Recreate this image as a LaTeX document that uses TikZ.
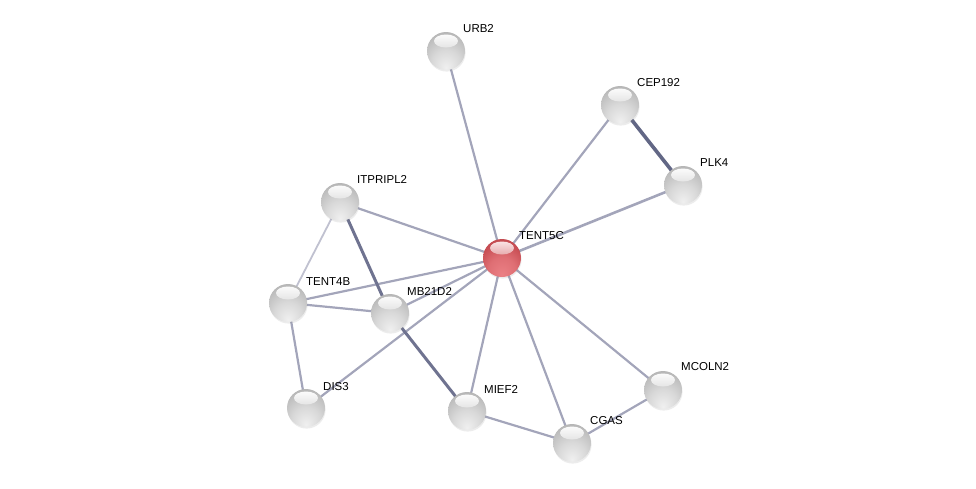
\documentclass[tikz,border=0pt]{standalone}
\usepackage{fontspec}
\setmainfont{Liberation Sans}
\usetikzlibrary{backgrounds,shadows}
\definecolor{sedge}{RGB}{163,165,186}
\definecolor{sedgedark}{RGB}{98,103,133}
\definecolor{sedgelight}{RGB}{192,193,208}
\definecolor{sredlo}{RGB}{235,128,133}
\definecolor{sredmid}{RGB}{200,78,84}
\definecolor{sredrim}{RGB}{130,28,34}
\pgfdeclareradialshading{protball}{\pgfpoint{0bp}{-22bp}}{%
  color(0bp)=(black!6); color(18bp)=(black!15); color(32bp)=(black!25);
  color(45bp)=(black!36); color(55bp)=(black!50); color(65bp)=(black!58); color(75bp)=(black!58)}
\pgfdeclareradialshading{queryball}{\pgfpoint{0bp}{-22bp}}{%
  color(0bp)=(sredlo); color(18bp)=(sredlo!65!sredmid); color(32bp)=(sredmid);
  color(45bp)=(sredmid!80!sredrim); color(55bp)=(sredmid!35!sredrim); color(65bp)=(sredrim); color(75bp)=(sredrim)}

\begin{document}
\begin{tikzpicture}[
  x=1pt,y=-1pt,
  font=\fontsize{11.5}{13}\selectfont,
  prot/.style={circle,minimum size=38pt,inner sep=0pt,shading=protball,
               path picture={\shade[top color=white,bottom color=black!25] ([yshift=-9pt]path picture bounding box.north) ellipse (12pt and 6.5pt);},
               drop shadow={opacity=0.15,shadow xshift=0.6pt,shadow yshift=-1.6pt}},
  query/.style={prot,shading=queryball,
               path picture={\shade[top color=white!85!sredlo,bottom color=sredmid] ([yshift=-9pt]path picture bounding box.north) ellipse (12pt and 6.5pt);}},
  lab/.style={anchor=west,inner sep=0pt},
  edge/.style={draw=sedge,line width=2.2pt},
  strong/.style={draw=sedgedark,line width=3pt},
  weak/.style={draw=sedgelight,line width=1.8pt},
  ]
  \useasboundingbox (0,0) rectangle (976,488);
  % proteins
  \node[prot]  (urb)   at (446,51)  {};
  \node[prot]  (cep)   at (620,105) {};
  \node[prot]  (plk)   at (683,185) {};
  \node[prot]  (itp)   at (340,202) {};
  \node[query] (tent5) at (502,258) {};
  \node[prot]  (tent4) at (288,303) {};
  \node[prot]  (mb)    at (390,313) {};
  \node[prot]  (dis)   at (306,408) {};
  \node[prot]  (mief)  at (467,411) {};
  \node[prot]  (cgas)  at (572,443) {};
  \node[prot]  (mcol)  at (663,390) {};
  % names
  \node[lab] (urb-l)   at ([shift={(17,-22)}]urb.center)   {URB2};
  \node[lab] (cep-l)   at ([shift={(17,-22)}]cep.center)   {CEP192};
  \node[lab] (plk-l)   at ([shift={(17,-22)}]plk.center)   {PLK4};
  \node[lab] (itp-l)   at ([shift={(17,-23)}]itp.center)   {ITPRIPL2};
  \node[lab] (tent5-l) at ([shift={(17,-22)}]tent5.center) {TENT5C};
  \node[lab] (tent4-l) at ([shift={(18,-21)}]tent4.center) {TENT4B};
  \node[lab] (mb-l)    at ([shift={(17,-22)}]mb.center)    {MB21D2};
  \node[lab] (dis-l)   at ([shift={(17,-21)}]dis.center)   {DIS3};
  \node[lab] (mief-l)  at ([shift={(17,-22)}]mief.center)  {MIEF2};
  \node[lab] (cgas-l)  at ([shift={(18,-22)}]cgas.center)  {CGAS};
  \node[lab] (mcol-l)  at ([shift={(18,-23)}]mcol.center)  {MCOLN2};
  % interactions
  \begin{scope}[on background layer]
    \draw[edge] (tent5.center) -- (urb.center);
    \draw[edge] (tent5.center) -- (cep.center);
    \draw[edge,line width=2.6pt] (tent5.center) -- (plk.center);
    \draw[edge] (tent5.center) -- (itp.center);
    \draw[edge] (tent5.center) -- (tent4.center);
    \draw[edge] (tent5.center) -- (mb.center);
    \draw[edge] (tent5.center) -- (dis.center);
    \draw[edge] (tent5.center) -- (mief.center);
    \draw[edge] (tent5.center) -- (cgas.center);
    \draw[edge] (tent5.center) -- (mcol.center);
    \draw[strong,line width=3.6pt] (cep.center) -- (plk.center);
    \draw[strong,draw=sedgedark!80!sedge] (itp.center) -- (mb.center);
    \draw[weak] (itp.center) -- (tent4.center);
    \draw[edge] (tent4.center) -- (mb.center);
    \draw[edge] (tent4.center) -- (dis.center);
    \draw[strong,draw=sedgedark!80!sedge] (mb.center) -- (mief.center);
    \draw[edge] (mief.center) -- (cgas.center);
    \draw[edge] (cgas.center) -- (mcol.center);
  \end{scope}
\end{tikzpicture}
\end{document}
